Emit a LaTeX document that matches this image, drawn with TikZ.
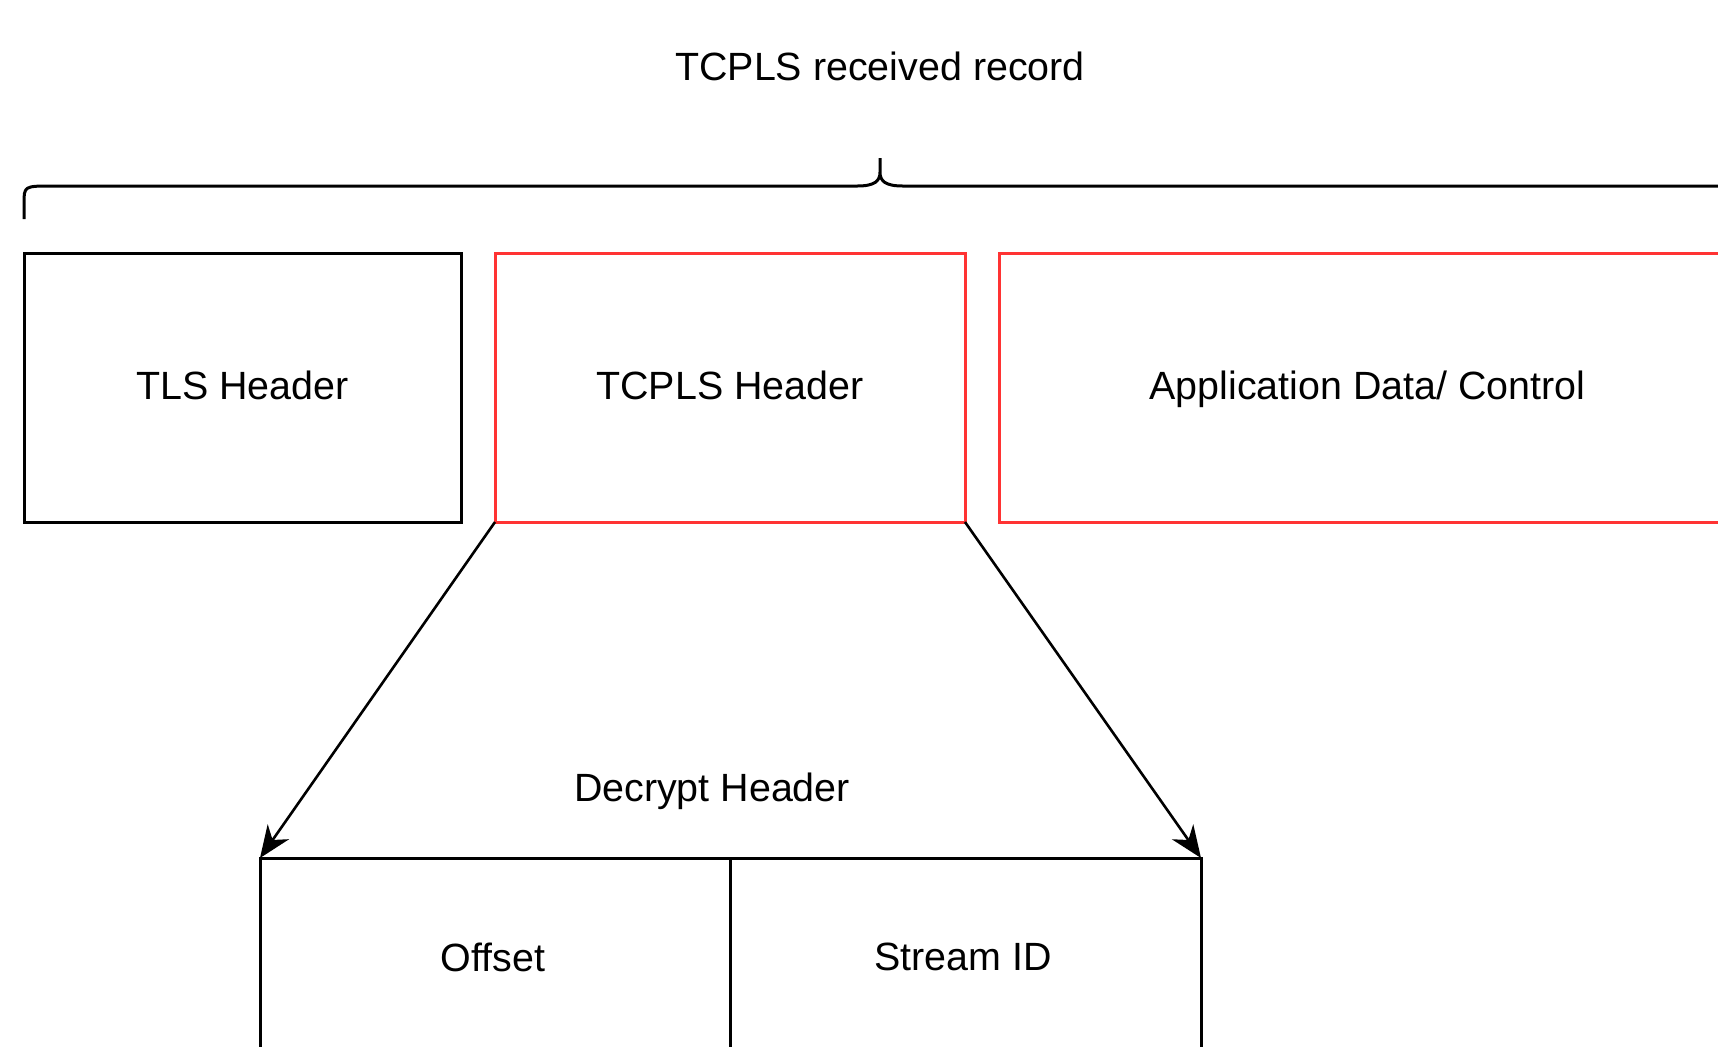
\documentclass[tikz,border=0pt]{standalone}
\usepackage{fontspec}
\setmainfont{Liberation Sans}
\usepackage{xcolor}
\usetikzlibrary{arrows.meta,positioning}
\definecolor{hdrred}{RGB}{255,51,51}

\begin{document}
\begin{tikzpicture}[x=0.5pt,y=-0.5pt,
    font=\fontsize{19.7}{24}\selectfont,
    field/.style={draw,line width=1.5pt,rectangle,inner sep=0pt,outer sep=0pt,
      minimum height=134.5pt,text height=1.2em,text depth=0pt},
    redfield/.style={field,draw=hdrred},
    arr/.style={line width=1.3pt,-{Stealth[length=16pt,width=13pt,inset=5pt]}}]
  \useasboundingbox (0,0) rectangle (1718,1046);
  \clip (0,0) rectangle (1718,1046);

  % record title and brace
  \node (title) at (880,66) {TCPLS received record};
  \draw[line width=1.5pt,line join=round]
    (24,219) -- (24,204) .. controls (24,186) .. (52,186) -- (857,186)
    .. controls (875,186) and (880,181) .. (880,172) -- (880,158)
    (880,172) .. controls (880,181) and (885,186) .. (903,186) -- (1708,186)
    .. controls (1736,186) .. (1736,204) -- (1736,219);

  % received record fields
  \node[field,minimum width=218.5pt] (tls) at (242.5,387.5) {TLS Header};
  \node[redfield,minimum width=235pt] (tcpls) at (730,387.5) {TCPLS Header};
  \node[redfield,minimum width=368.5pt] (app) at (1367.5,387.5) {Application Data/ Control};

  % decrypted header fields
  \node[field,minimum width=235pt,anchor=north west] (offset) at (260,858) {};
  \node[field,minimum width=235.5pt,anchor=north west] (sid) at (offset.north east) {};
  \node (offsetlbl) at (493,957) {Offset};
  \node (sidlbl) at (963,957) {Stream ID};

  \draw[arr] (tcpls.south west) -- (offset.north west);
  \draw[arr] (tcpls.south east) -- (sid.north east);
  \node (decrypt) at (712,791) {Decrypt Header};
\end{tikzpicture}
\end{document}
